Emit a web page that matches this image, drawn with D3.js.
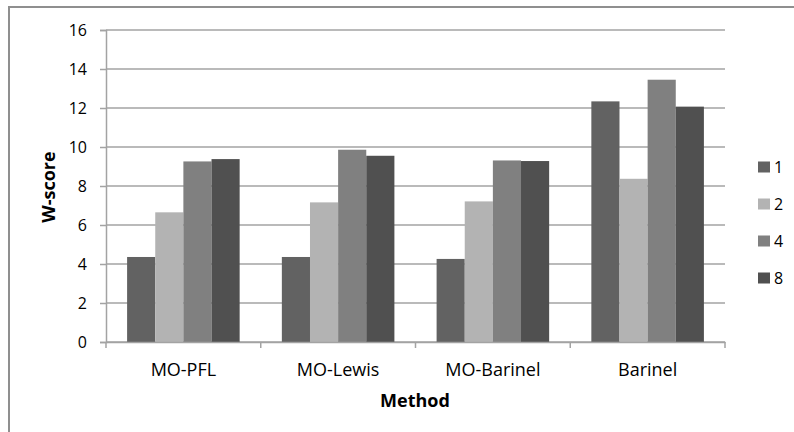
<!DOCTYPE html>
<html>
<head>
<meta charset="utf-8">
<script src="https://cdn.jsdelivr.net/npm/d3@7"></script>
<style>
  html, body { margin: 0; padding: 0; background: #fff; }
  svg { display: block; }
  text { font-family: "Open Sans", "Noto Sans", sans-serif; fill: #000; }
</style>
</head>
<body>
<svg id="chart" width="794" height="432"></svg>
<script>
// Methods along the x axis
const methods = ["MO-PFL", "MO-Lewis", "MO-Barinel", "Barinel"];
// Series names (legend)
const seriesNames = ["1", "2", "4", "8"];
// W-score per method, one array per series
const series1 = [4.36, 4.36, 4.26, 12.34];
const series2 = [6.65, 7.16, 7.21, 8.37];
const series4 = [9.26, 9.86, 9.31, 13.45];
const series8 = [9.38, 9.55, 9.28, 12.07];
const yTicks = [0, 2, 4, 6, 8, 10, 12, 14, 16];

const seriesValues = [series1, series2, series4, series8];
const colors = ["#626262", "#b3b3b3", "#808080", "#505050"];

const svg = d3.select("#chart");
const W = 794, H = 432;
const plot = { left: 106, right: 725, top: 30, bottom: 342 };

// outer chart frame (right and bottom edges run off the canvas)
svg.append("rect")
  .attr("x", 9).attr("y", 7)
  .attr("width", W + 20).attr("height", H + 20)
  .attr("fill", "#fff")
  .attr("stroke", "#8f8f8f").attr("stroke-width", 2);

const x = d3.scaleBand().domain(methods).range([plot.left, plot.right]);
const inner = d3.scaleBand().domain(seriesNames)
  .range([0, x.bandwidth()]).paddingOuter(0.75).paddingInner(0);
const y = d3.scaleLinear().domain([0, 16]).range([plot.bottom, plot.top]);

// horizontal gridlines
svg.append("g")
  .selectAll("line")
  .data(yTicks)
  .join("line")
  .attr("x1", plot.left).attr("x2", plot.right)
  .attr("y1", d => y(d)).attr("y2", d => y(d))
  .attr("stroke", "#a3a3a3").attr("stroke-width", 1.5);

// bars
const rows = methods.map((m, i) => ({ method: m, vals: seriesNames.map((s, j) => ({ s, j, v: seriesValues[j][i] })) }));
svg.append("g")
  .selectAll("g")
  .data(rows)
  .join("g")
  .attr("transform", d => `translate(${x(d.method)},0)`)
  .selectAll("rect")
  .data(d => d.vals)
  .join("rect")
  .attr("x", d => inner(d.s))
  .attr("width", inner.bandwidth())
  .attr("y", d => y(d.v))
  .attr("height", d => y(0) - y(d.v))
  .attr("fill", d => colors[d.j]);

// y axis
const yAxis = svg.append("g")
  .attr("transform", `translate(${plot.left},0)`)
  .call(d3.axisLeft(y).tickValues(yTicks).tickSize(6).tickPadding(13).tickFormat(d3.format("d")));
yAxis.select(".domain").attr("stroke", "#a3a3a3").attr("stroke-width", 1.5);
yAxis.selectAll(".tick line").attr("stroke", "#a3a3a3").attr("stroke-width", 1.5);
yAxis.selectAll("text").style("font-size", "16px").attr("fill", "#000");

// x axis
const xAxis = svg.append("g")
  .attr("transform", `translate(0,${plot.bottom})`)
  .call(d3.axisBottom(x).tickSize(0).tickPadding(21));
xAxis.select(".domain").attr("stroke", "#a3a3a3").attr("stroke-width", 1.5);
xAxis.selectAll("text").style("font-size", "18px").attr("fill", "#000");
// boundary tick marks between categories
svg.append("g")
  .selectAll("line")
  .data(methods.map(m => x(m)).concat([plot.right]))
  .join("line")
  .attr("x1", d => d).attr("x2", d => d)
  .attr("y1", plot.bottom).attr("y2", plot.bottom + 6)
  .attr("stroke", "#a3a3a3").attr("stroke-width", 1.5);

// axis titles
svg.append("text")
  .attr("x", 415).attr("y", 407)
  .attr("text-anchor", "middle")
  .style("font-size", "18px").style("font-weight", "bold")
  .text("Method");
svg.append("text")
  .attr("transform", `translate(55,187) rotate(-90)`)
  .attr("text-anchor", "middle")
  .style("font-size", "18px").style("font-weight", "bold")
  .text("W-score");

// legend
const legend = svg.append("g")
  .selectAll("g")
  .data(seriesNames)
  .join("g")
  .attr("transform", (d, i) => `translate(758,${167 + i * 37})`);
legend.append("rect")
  .attr("x", 0).attr("y", -5.5).attr("width", 12).attr("height", 11)
  .attr("fill", (d, i) => colors[i]);
legend.append("text")
  .attr("x", 16).attr("y", 0).attr("dy", "0.35em")
  .style("font-size", "16px")
  .text(d => d);
</script>
</body>
</html>
